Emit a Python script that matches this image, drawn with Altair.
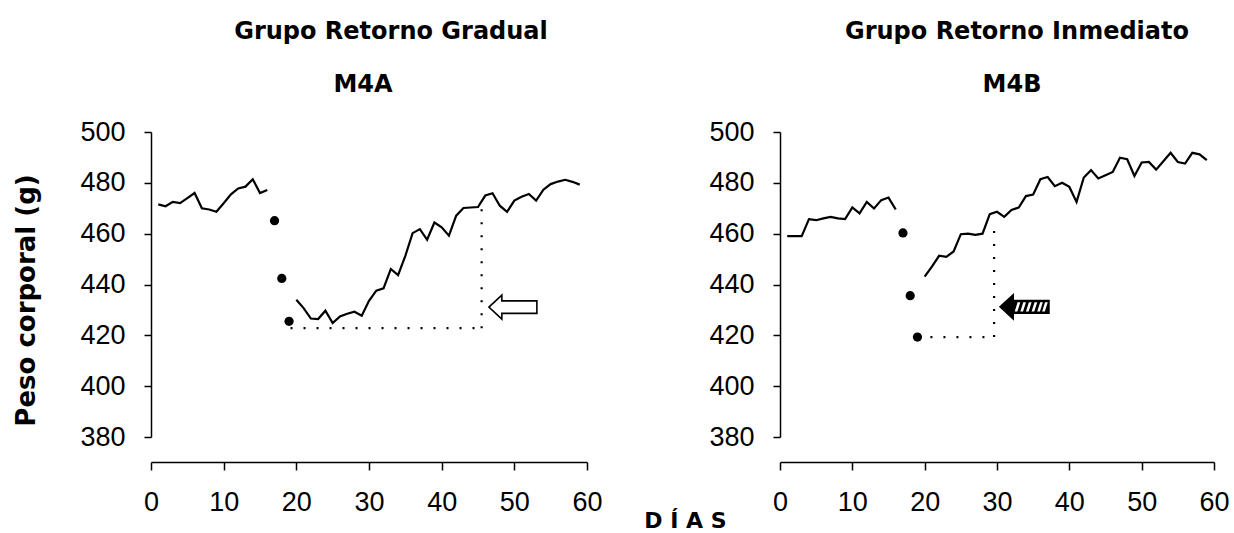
import altair as alt
import pandas as pd

# ---- M4A (gradual return): body weight (g) by day ----
a_days_pre = list(range(1, 17))
a_w_pre = [471.5, 470.8, 472.5, 472.0, 474.0, 476.0, 470.0, 469.5, 468.6, 472.0,
           475.5, 477.8, 478.5, 481.4, 476.0, 477.2]
a_days_dots = [17, 18, 19]
a_w_dots = [465.1, 442.4, 425.5]
a_days_post = list(range(20, 60))
a_w_post = [434.0, 430.7, 426.6, 426.4, 429.7, 424.8, 427.4, 428.5, 429.3, 427.7,
            433.6, 437.6, 438.5, 446.1, 443.7, 451.3, 460.2, 461.8, 457.6, 464.4,
            462.5, 459.2, 467.1, 470.1, 470.3, 470.5, 475.0, 475.9, 471.0, 468.6,
            473.0, 474.5, 475.6, 473.0, 477.3, 479.5, 480.5, 481.2, 480.4, 479.3]
# dotted guides: (day, weight) -> (day_end, weight_end)
a_guides = [(19.2, 422.8, 45.5, 422.8), (45.5, 422.8, 45.5, 470.8)]
a_arrow = (49.8, 431.1)

# ---- M4B (immediate return) ----
b_days_pre = list(range(1, 17))
b_w_pre = [459.0, 459.0, 459.0, 465.7, 465.3, 466.0, 466.6, 466.0, 465.7, 470.3,
           468.0, 472.5, 469.9, 473.2, 474.2, 469.5]
b_days_dots = [17, 18, 19]
b_w_dots = [460.3, 435.6, 419.3]
b_days_post = list(range(20, 60))
b_w_post = [443.1, 447.0, 451.3, 450.9, 453.0, 459.8, 460.0, 459.5, 460.0, 467.7,
            468.6, 466.6, 469.3, 470.3, 474.8, 475.4, 481.4, 482.3, 478.7, 480.0,
            478.4, 472.5, 482.1, 485.0, 481.7, 483.0, 484.3, 489.9, 489.3, 482.7,
            488.0, 488.2, 485.2, 488.5, 491.8, 488.2, 487.6, 491.8, 491.2, 488.9]
b_guides = [(19.0, 419.3, 29.6, 419.3), (29.6, 419.3, 29.6, 462.2)]
b_arrow = (33.8, 431.2)

x_ticks = [0, 10, 20, 30, 40, 50, 60]
y_ticks = [380, 400, 420, 440, 460, 480, 500]

# arrow glyphs (unit-square symbol paths, pointing left)
ARROW = ("M -1 0 L -0.46 -0.5 L -0.46 -0.26 L 1 -0.26 L 1 0.26 "
         "L -0.46 0.26 L -0.46 0.5 Z")
STRIPES = " ".join(
    f"M {x0:.2f} 0.19 L {x0 + 0.11:.2f} 0.19 L {x0 + 0.23:.2f} -0.19 L {x0 + 0.12:.2f} -0.19 Z"
    for x0 in [-0.40, -0.17, 0.06, 0.29, 0.52, 0.72]
)

NUM_FONT = "Liberation Sans"
TXT_FONT = "DejaVu Sans"
TITLE_STYLE = dict(font=TXT_FONT, fontSize=24, fontWeight="bold", color="black",
                   anchor="middle")


def panel(days_pre, w_pre, days_dots, w_dots, days_post, w_post, guides, arrow,
          hatched, group_title, animal, y_title, width, group_dx, animal_dx):
    lines = pd.DataFrame({
        "day": days_pre + days_post,
        "weight": w_pre + w_post,
        "seg": ["pre"] * len(days_pre) + ["post"] * len(days_post),
    })
    dots = pd.DataFrame({"day": days_dots, "weight": w_dots})
    guide_df = pd.DataFrame(guides, columns=["day", "weight", "day_end", "weight_end"])
    arrow_df = pd.DataFrame({"day": [arrow[0]], "weight": [arrow[1]]})

    x = alt.X("day:Q", scale=alt.Scale(domain=[0, 60], nice=False, zero=False),
              axis=alt.Axis(values=x_ticks, title=None, offset=25, tickSize=8,
                            labelPadding=19, grid=False, labelFont=NUM_FONT,
                            labelFontSize=27, labelColor="black", domainColor="black",
                            tickColor="black", domainWidth=1.5, tickWidth=1.5,
                            labelFlush=False))
    y_axis = dict(values=y_ticks, tickSize=7, labelPadding=19, grid=False,
                  labelFont=NUM_FONT, labelFontSize=27, labelColor="black",
                  domainColor="black", tickColor="black", domainWidth=1.5,
                  tickWidth=1.5)
    if y_title:
        y_axis.update(title=y_title, titleFont=TXT_FONT, titleFontSize=26,
                      titleFontWeight="bold", titleColor="black", titlePadding=40,
                      titleY=168)
    else:
        y_axis.update(title=None)
    y = alt.Y("weight:Q", scale=alt.Scale(domain=[380, 500], nice=False, zero=False),
              axis=alt.Axis(**y_axis))

    line_layer = alt.Chart(lines).mark_line(color="black", strokeWidth=2.2).encode(
        x=x, y=y, detail="seg:N")
    dot_layer = alt.Chart(dots).mark_circle(size=85, color="black", opacity=1).encode(
        x=x, y=y)
    guide_layer = alt.Chart(guide_df).mark_rule(
        color="black", strokeWidth=2.2, strokeDash=[2, 11]).encode(
        x=x, y=y, x2="day_end:Q", y2="weight_end:Q")
    if hatched:
        arrow_layer = alt.Chart(arrow_df).mark_point(
            shape=ARROW, size=2401, filled=True, fill="black", stroke="black",
            strokeWidth=1.5, opacity=1).encode(x=x, y=y) + \
            alt.Chart(arrow_df).mark_point(
            shape=STRIPES, size=2401, filled=True, fill="white", strokeWidth=0,
            opacity=1).encode(x=x, y=y)
    else:
        arrow_layer = alt.Chart(arrow_df).mark_point(
            shape=ARROW, size=2304, filled=True, fill="white", stroke="black",
            strokeWidth=1.6, opacity=1).encode(x=x, y=y)

    plot = alt.layer(guide_layer, line_layer, dot_layer, arrow_layer).properties(
        width=width, height=305,
        title=alt.Title(animal, offset=21, dx=animal_dx, **TITLE_STYLE),
    )
    # group name sits above the animal code
    return alt.vconcat(plot).properties(
        title=alt.Title(group_title, offset=29, dx=group_dx, **TITLE_STYLE)
    )


left = panel(a_days_pre, a_w_pre, a_days_dots, a_w_dots, a_days_post, a_w_post,
             a_guides, a_arrow, False, "Grupo Retorno Gradual", "M4A",
             "Peso corporal (g)", 436, 83, -6)
right = panel(b_days_pre, b_w_pre, b_days_dots, b_w_dots, b_days_post, b_w_post,
              b_guides, b_arrow, True, "Grupo Retorno Inmediato", "M4B",
              None, 434, 48, 15)

chart = alt.hconcat(left, right, spacing=105).properties(
    title=alt.Title("D Í A S", orient="bottom", anchor="middle", dx=64, offset=-4,
                    font=TXT_FONT, fontSize=22, fontWeight="bold", color="black"),
    padding={"left": 13, "top": 20, "right": 1, "bottom": 2},
    background="white",
).configure_view(stroke=None)

chart.save("out.html", embed_options={"renderer": "svg", "actions": False})
